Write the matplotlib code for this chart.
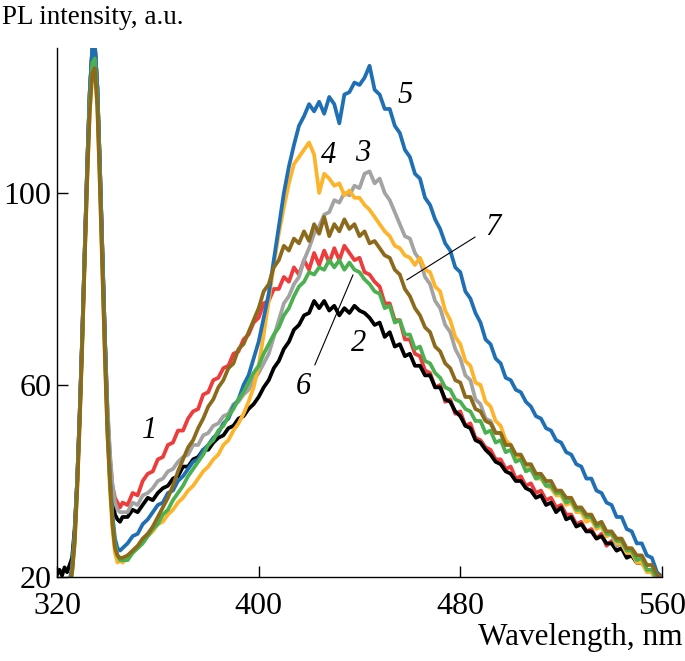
import numpy as np
import matplotlib
matplotlib.use('Agg')
import matplotlib.pyplot as plt

plt.rcParams['font.family'] = ['Liberation Serif', 'DejaVu Serif']

# wavelength grid: 1 nm steps over the excitation line, 2 nm after
wl_a = np.arange(320, 347)          # 320..346
wl_b = np.arange(348, 561, 2)       # 348..560
wl = np.concatenate([wl_a, wl_b])

# PL intensity
peak_hi = [12, 12, 13, 15, 17, 19, 22, 29, 40, 54, 70, 88, 106, 121, 130, 131, 122, 106, 88, 70]
peak_lo = [12, 12, 13, 14, 16, 18, 21, 27, 38, 52, 68, 86, 103, 117, 125, 126, 118, 102, 84, 66]

I1 = peak_hi + [55, 45, 39, 36.5, 35.5, 34.5, 35.5] + [
    35.0, 37.5, 37.0, 40.0, 41.5, 42.0, 44.5, 45.0, 47.5, 48.0,
    50.5, 50.5, 53.0, 54.5, 55.0, 58.0, 58.5, 61.0, 61.5, 63.5,
    64.0, 66.5, 67.0, 69.5, 70.5, 73.0, 74.0, 77.0, 77.5, 80.0,
    80.0, 82.5, 81.5, 84.5, 83.0, 86.0, 84.0, 87.5, 85.0, 88.0,
    85.5, 88.5, 86.0, 89.0, 87.5, 86.0, 86.5, 83.5, 83.0, 81.5,
    80.5, 77.0, 77.0, 73.5, 73.5, 69.5, 69.5, 66.5, 66.0, 63.0,
    62.5, 59.5, 60.0, 56.5, 57.0, 54.0, 54.5, 51.5, 52.0, 49.0,
    48.5, 47.0, 46.5, 44.5, 44.5, 42.5, 43.0, 40.5, 41.0, 39.0,
    39.5, 37.5, 38.0, 36.0, 36.5, 34.5, 35.0, 33.0, 33.0, 31.0,
    31.5, 29.5, 30.0, 28.0, 29.0, 26.5, 27.5, 25.5, 26.0, 24.5,
    24.5, 23.0, 23.0, 21.5, 21.0, 19.5, 18.5]

I2 = [20.5, 21.5, 20.3, 22, 21, 22.5, 24, 30] + peak_hi[8:] + [54, 43, 36, 33, 32, 31.5, 32.5] + [
    32.5, 34.0, 33.5, 35.0, 36.5, 36.0, 37.5, 38.5, 39.0, 40.5,
    41.0, 43.0, 43.0, 44.5, 45.0, 46.5, 46.5, 48.0, 49.0, 49.5,
    51.0, 51.5, 53.0, 53.5, 55.0, 56.0, 57.5, 59.5, 61.0, 63.5,
    65.0, 67.5, 69.0, 71.5, 72.5, 74.5, 75.0, 77.5, 76.0, 77.5,
    75.5, 76.5, 74.5, 76.0, 75.0, 76.5, 75.5, 75.0, 74.0, 72.5,
    73.0, 70.0, 71.0, 68.0, 68.5, 66.0, 66.5, 64.0, 64.0, 62.0,
    62.0, 59.5, 59.5, 57.0, 56.5, 54.5, 53.5, 51.5, 51.0, 48.5,
    48.0, 46.5, 45.5, 44.0, 43.5, 42.0, 41.5, 40.0, 40.0, 38.5,
    38.0, 36.5, 37.0, 35.0, 35.5, 33.5, 34.5, 32.0, 32.5, 30.5,
    31.0, 29.5, 29.5, 28.0, 28.5, 27.0, 27.0, 25.5, 26.0, 24.0,
    24.5, 23.0, 23.0, 21.5, 21.0, 19.5, 18.5]

I3 = peak_hi + [56, 46, 39, 35.5, 34, 33.5, 33.5] + [
    33.5, 35.5, 35.0, 37.0, 37.5, 38.5, 40.0, 40.5, 42.0, 42.5,
    44.0, 45.0, 45.5, 47.5, 47.5, 49.5, 50.0, 51.5, 52.0, 53.5,
    54.0, 56.0, 56.5, 58.0, 59.0, 61.0, 62.5, 64.5, 66.5, 70.0,
    73.5, 77.0, 78.5, 81.0, 82.5, 86.0, 88.5, 91.5, 93.0, 95.5,
    96.0, 98.5, 98.0, 100.0, 99.5, 101.5, 101.0, 104.0, 104.5, 102.0,
    103.0, 100.0, 98.5, 96.0, 93.5, 91.0, 90.5, 87.5, 86.0, 82.5,
    81.0, 77.5, 76.0, 72.5, 71.0, 67.5, 65.5, 62.0, 61.0, 57.0,
    56.0, 53.0, 52.5, 50.0, 50.0, 47.5, 47.5, 45.5, 45.0, 43.5,
    43.0, 41.5, 41.0, 39.5, 39.0, 37.5, 37.5, 36.0, 35.5, 34.0,
    34.0, 32.5, 32.0, 30.5, 30.5, 28.5, 29.0, 26.5, 27.0, 25.0,
    25.5, 23.5, 23.5, 21.5, 21.5, 19.5, 19.0]

I4 = peak_lo + [50, 38, 30, 25, 23, 23.5, 23] + [
    24.0, 25.5, 26.0, 27.5, 28.5, 29.5, 31.0, 31.5, 33.0, 34.0,
    35.5, 36.5, 38.0, 39.0, 40.5, 42.0, 43.0, 44.5, 45.5, 47.5,
    48.5, 50.5, 52.0, 54.0, 56.5, 59.5, 64.0, 70.5, 77.5, 85.0,
    91.5, 97.0, 102.0, 106.0, 107.5, 109.0, 110.5, 108.0, 100.0, 104.0,
    103.0, 101.5, 102.0, 99.5, 100.5, 99.0, 99.0, 97.5, 96.5, 95.0,
    93.5, 92.0, 91.0, 89.0, 88.5, 87.0, 86.5, 85.0, 86.5, 84.0,
    83.5, 80.5, 79.5, 75.5, 73.5, 70.0, 68.5, 65.0, 64.0, 60.5,
    60.0, 56.5, 55.5, 52.5, 51.5, 48.5, 47.5, 45.0, 44.5, 42.5,
    42.5, 40.5, 40.5, 39.0, 38.5, 37.0, 37.0, 35.0, 35.5, 33.5,
    33.5, 31.5, 32.0, 30.0, 30.5, 28.5, 29.0, 27.0, 27.0, 25.0,
    25.0, 23.0, 23.0, 21.0, 21.0, 19.0, 18.5]

I5 = peak_hi + [52, 41, 33, 28, 26, 25.5, 26] + [
    27.0, 28.5, 29.0, 31.0, 32.0, 33.5, 35.0, 35.5, 37.5, 38.0,
    40.0, 41.0, 42.5, 44.0, 44.5, 46.5, 47.5, 49.0, 50.0, 52.0,
    53.0, 55.5, 57.0, 60.0, 62.0, 65.5, 69.0, 74.0, 79.0, 86.0,
    93.0, 100.0, 105.5, 110.0, 114.0, 116.0, 118.5, 117.0, 119.0, 116.5,
    120.0, 118.5, 114.5, 120.5, 121.0, 123.0, 122.5, 124.0, 126.5, 121.5,
    120.5, 117.5, 117.5, 114.0, 112.5, 109.0, 107.5, 104.0, 103.0, 99.0,
    97.5, 94.5, 92.5, 89.5, 88.0, 84.5, 83.5, 79.5, 78.0, 75.0,
    73.0, 69.5, 68.5, 65.5, 64.5, 61.5, 61.0, 59.0, 58.5, 56.5,
    55.5, 53.5, 53.0, 51.0, 50.5, 48.5, 48.0, 46.0, 45.5, 43.5,
    43.0, 40.5, 40.5, 38.0, 37.5, 35.5, 35.0, 32.5, 32.5, 30.0,
    29.5, 27.0, 27.0, 24.5, 24.0, 21.0, 20.0]

I6 = [12, 12, 13, 14, 16, 18, 21, 28, 39, 53, 69, 87, 104, 119, 127, 128, 120, 104, 86, 68] + [52, 40, 32, 27, 24.5, 23.5, 23.5] + [
    23.5, 25.0, 26.0, 27.0, 28.5, 30.0, 31.0, 33.0, 34.0, 36.0,
    37.5, 39.0, 41.0, 42.5, 44.0, 45.5, 47.5, 48.5, 50.5, 51.5,
    53.5, 55.0, 57.0, 58.5, 60.5, 62.5, 64.0, 66.5, 68.5, 70.5,
    72.0, 74.5, 76.0, 78.5, 80.5, 81.5, 83.5, 83.0, 84.5, 84.0,
    86.0, 84.5, 86.0, 84.0, 85.5, 84.0, 83.5, 82.0, 81.0, 79.5,
    79.0, 76.0, 76.5, 73.0, 73.5, 70.5, 70.5, 67.5, 68.0, 65.0,
    64.5, 62.5, 61.5, 59.5, 59.0, 57.0, 56.5, 55.0, 54.5, 52.5,
    52.5, 50.0, 50.5, 48.0, 48.5, 46.0, 46.5, 44.0, 44.5, 42.0,
    42.5, 40.5, 41.0, 39.0, 39.0, 37.5, 37.5, 35.5, 36.0, 34.0,
    34.0, 32.5, 32.5, 30.5, 31.0, 29.0, 29.0, 27.5, 27.5, 25.5,
    25.5, 23.5, 24.0, 21.5, 21.5, 19.5, 19.0]

I7 = peak_lo + [50, 40, 31, 26, 24.5, 24, 24] + [
    24.5, 25.5, 26.5, 28.0, 29.0, 30.5, 32.5, 34.5, 36.5, 39.0,
    42.0, 44.5, 47.0, 48.5, 51.0, 53.0, 55.5, 57.0, 59.5, 61.0,
    63.5, 64.5, 67.5, 68.5, 71.0, 73.5, 76.0, 79.5, 81.0, 84.5,
    86.0, 89.0, 88.0, 90.5, 89.5, 92.0, 90.0, 93.5, 91.5, 95.0,
    91.0, 93.5, 92.0, 94.5, 92.5, 93.5, 91.0, 92.0, 89.5, 90.0,
    88.5, 87.0, 86.5, 84.0, 83.0, 80.0, 78.5, 76.0, 74.5, 72.0,
    71.0, 68.0, 67.0, 64.5, 63.5, 61.0, 60.5, 57.5, 57.5, 55.0,
    54.5, 52.5, 52.0, 50.0, 50.0, 47.5, 47.5, 45.5, 45.5, 43.5,
    43.5, 41.5, 41.5, 40.0, 40.0, 38.0, 38.0, 36.5, 36.5, 34.5,
    34.5, 33.0, 33.0, 31.0, 31.5, 29.5, 29.5, 28.0, 28.0, 26.0,
    26.0, 24.5, 24.5, 22.5, 22.5, 20.5, 20.0]

curves = [I1, I2, I3, I4, I5, I6, I7]
colors = ['#ee3b3b', '#000000', '#a3a3a3', '#fdb42b', '#1f6fb4', '#4bb04f', '#8c6a1c']

# curve numbers: label, (x, y) in data units
labels = ['1', '2', '3', '4', '5', '6', '7']
label_pos = [(356.9, 50.6), (439.5, 68.7), (441.4, 108.3), (427.9, 107.9),
             (458.0, 120.4), (417.6, 59.6), (492.9, 92.9)]

fig = plt.figure(figsize=(6.85, 6.61), dpi=100)
ax = fig.add_axes([0.0832, 0.1271, 0.8832, 0.8003])

for y, c in zip(curves, colors):
    ax.plot(wl, y, color=c, lw=2.7, solid_joinstyle='round')

for lab, (x, y) in zip(labels, label_pos):
    ax.text(x, y, lab, fontsize=22, style='italic', ha='center', va='center')

# leader lines for 6 and 7
ax.plot([422.3, 437.4], [64.2, 82.9], color='k', lw=0.8)
ax.plot([485.8, 458.8], [90.8, 81.9], color='k', lw=0.8)

ax.set_xlim(320, 560)
ax.set_ylim(20, 130.2)
ax.set_xticks([320, 400, 480, 560])
ax.set_yticks([20, 60, 100])
ax.spines['top'].set_visible(False)
ax.spines['right'].set_visible(False)
ax.spines['left'].set_linewidth(1.0)
ax.spines['bottom'].set_linewidth(1.0)
ax.tick_params(direction='in', length=8, width=1.0, labelsize=23, pad=4)
ax.tick_params(axis='x', pad=11)

fig.text(0.003, 0.973, 'PL intensity, a.u.', fontsize=19.5, ha='left', va='center')
fig.text(0.997, 0.036, 'Wavelength, nm', fontsize=22.5, ha='right', va='center')

plt.savefig('out.png', dpi=100)
